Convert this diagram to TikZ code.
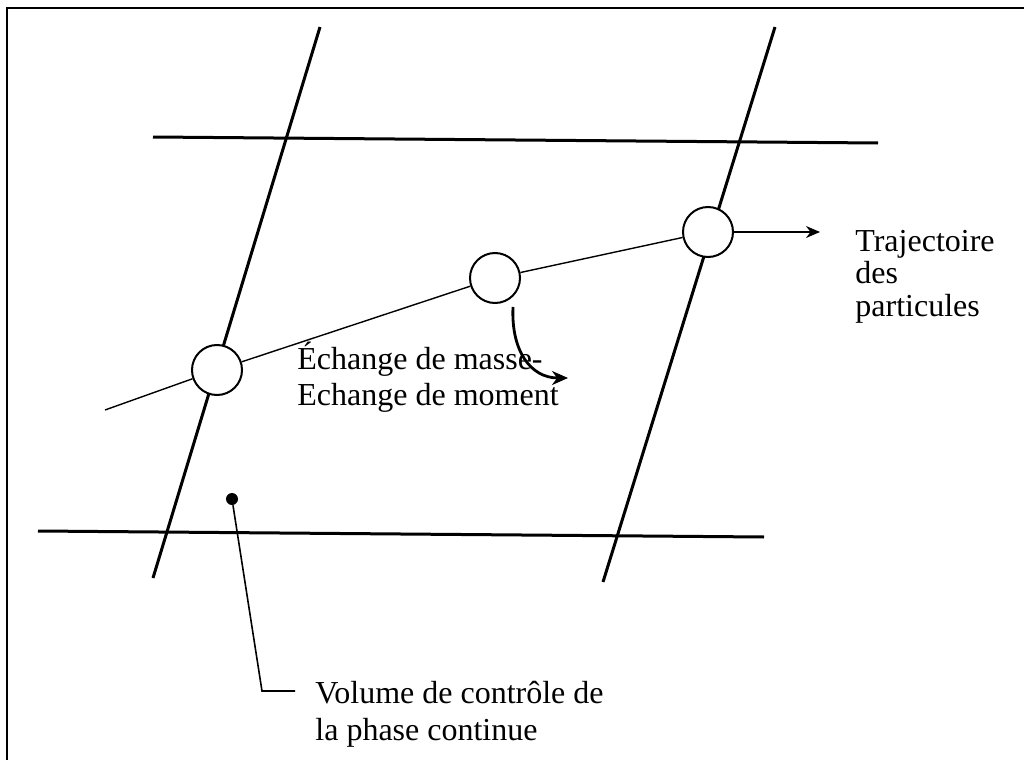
\documentclass[tikz,border=0pt]{standalone}
\usepackage{fontspec}
\setmainfont{Liberation Serif}
\usetikzlibrary{arrows.meta,calc}
\tikzset{
  gline/.style={black,line width=1.5pt},                    % cell face
  traj/.style={black,line width=0.7pt},                     % particle path
  part/.style={circle,draw=black,fill=white,line width=1pt,minimum size=25pt,inner sep=0pt},
  flow/.style={-{Stealth[length=7pt,width=6pt]},black,line width=0.8pt},
  exch/.style={-{Stealth[length=8pt,width=7pt]},black,line width=1.4pt},
  lead/.style={black,line width=0.8pt},
  lbl/.style={font=\fontsize{16}{#1}\selectfont,align=left,inner sep=0pt,anchor=base west},
}

\begin{document}
\begin{tikzpicture}[x=0.5pt,y=-0.5pt]
  \useasboundingbox (0,0) rectangle (1024,760);
  \draw[line width=1pt] (7,760) -- (7,8) -- (1024,8);
  % grid of the continuous phase
  \draw[gline] (153,137) -- (878,143);
  \draw[gline] (38,531) -- (764,537);
  \draw[gline] (320,27) -- (153,578);
  \draw[gline] (775,27) -- (603,582);
  % particles along their path
  \coordinate (t0) at (105,410);
  \node[part] (p1) at (217,370) {};
  \node[part] (p2) at (495,278) {};
  \node[part] (p3) at (708,232) {};
  \draw[traj] (t0) -- (p1) -- (p2) -- (p3);
  \coordinate (tip) at (820,232);
  \draw[flow] (p3) -- (tip);
  \node[lbl=16.25] (ttraj) at (855,316) {Trajectoire\\des\\particules};
  % exchange
  \coordinate (e0) at ($(p2)+(18,29)$);
  \coordinate (e1) at (568,378);
  \node[lbl=18] (texch) at (297,405) {Échange de masse-\\Echange de moment};
  \draw[exch] (e0) .. controls (511,350) and (530,378) .. (e1);
  % control volume
  \node[circle,fill=black,inner sep=0pt,minimum size=6pt] (cv) at (232,499) {};
  \coordinate (bend) at (262,691);
  \coordinate (lend) at (295,691);
  \draw[lead] (cv) -- (bend) -- (lend);
  \node[lbl=18.5] (tvol) at (315,740) {Volume de contrôle de\\la phase continue};
\end{tikzpicture}
\end{document}
